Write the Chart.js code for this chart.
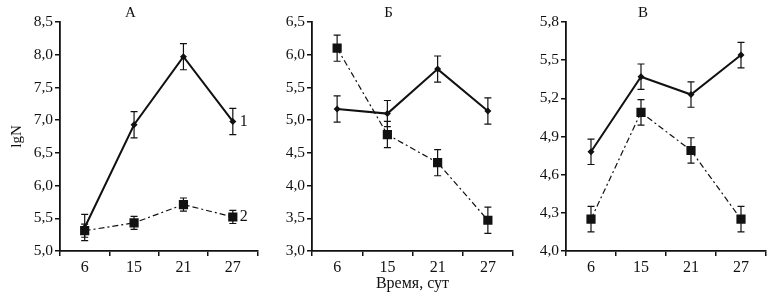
<!DOCTYPE html>
<html>
<head>
<meta charset="utf-8">
<script src="https://cdn.jsdelivr.net/npm/chart.js@4"></script>
<style>
  body { margin: 0; background: #fff; }
  #wrap { position: relative; width: 774px; height: 296px; }
  canvas { position: absolute; top: 0; }
</style>
</head>
<body>
<div id="wrap">
  <canvas id="chartA" width="264" height="296" style="left:0px"></canvas>
  <canvas id="chartB" width="256" height="296" style="left:264px"></canvas>
  <canvas id="chartC" width="254" height="296" style="left:520px"></canvas>
</div>
<script>
// days of sampling
const days = ["6", "15", "21", "27"];

// panel А
const aLine1 = [5.36, 6.93, 7.97, 6.98];
const aErr1 = [0.2, 0.2, 0.2, 0.2];
const aLine2 = [5.31, 5.43, 5.71, 5.52];
const aErr2 = [0.1, 0.1, 0.1, 0.1];
const aTicks = { min: 5.0, max: 8.5, step: 0.5 };

// panel Б
const bLine1 = [5.17, 5.10, 5.78, 5.14];
const bErr1 = [0.2, 0.2, 0.2, 0.2];
const bLine2 = [6.10, 4.78, 4.35, 3.47];
const bErr2 = [0.2, 0.2, 0.2, 0.2];
const bTicks = { min: 3.0, max: 6.5, step: 0.5 };

// panel В
const cLine1 = [4.78, 5.37, 5.23, 5.54];
const cErr1 = [0.1, 0.1, 0.1, 0.1];
const cLine2 = [4.25, 5.09, 4.79, 4.25];
const cErr2 = [0.1, 0.1, 0.1, 0.1];
const cTicks = { min: 4.0, max: 5.8, step: 0.3 };

const FONT = "'Liberation Serif', 'Times New Roman', serif";
const INK = "#111";

//error bars drawn from the y scale
const errorBars = {
  id: "errorBars",
  beforeDatasetsDraw(chart) {
    const ctx = chart.ctx;
    const y = chart.scales.y;
    chart.data.datasets.forEach((ds, di) => {
      const meta = chart.getDatasetMeta(di);
      ctx.save();
      ctx.strokeStyle = INK;
      ctx.lineWidth = 1.2;
      meta.data.forEach((pt, i) => {
        const top = y.getPixelForValue(ds.data[i] + ds.errors[i]);
        const bot = y.getPixelForValue(ds.data[i] - ds.errors[i]);
        ctx.beginPath();
        ctx.moveTo(pt.x, top);
        ctx.lineTo(pt.x, bot);
        ctx.moveTo(pt.x - 3.5, top);
        ctx.lineTo(pt.x + 3.5, top);
        ctx.moveTo(pt.x - 3.5, bot);
        ctx.lineTo(pt.x + 3.5, bot);
        ctx.stroke();
      });
      ctx.restore();
    });
  },
};

//series numbers next to last point (panel А only)
const endLabels = {
  id: "endLabels",
  afterDatasetsDraw(chart, args, opts) {
    if (!opts.show) return;
    const ctx = chart.ctx;
    ctx.save();
    ctx.fillStyle = INK;
    ctx.font = "16px " + FONT;
    ctx.textAlign = "left";
    ctx.textBaseline = "middle";
    chart.data.datasets.forEach((ds, di) => {
      const meta = chart.getDatasetMeta(di);
      const last = meta.data[meta.data.length - 1];
      ctx.fillText(ds.label, last.x + 7, last.y);
    });
    ctx.restore();
  },
};

function makeChart(id, title, line1, err1, line2, err2, t, opt) {
  const ctx = document.getElementById(id);
  return new Chart(ctx, {
    type: "line",
    data: {
      labels: days,
      datasets: [
        {
          label: "1",
          data: line1,
          errors: err1,
          borderColor: INK,
          borderWidth: 2,
          pointStyle: "rectRot",
          pointRadius: 3.5,
          pointBackgroundColor: INK,
          pointBorderColor: INK,
          pointBorderWidth: 0,
          tension: 0,
        },
        {
          label: "2",
          data: line2,
          errors: err2,
          borderColor: INK,
          borderWidth: 1.2,
          borderDash: [6, 3, 2, 3],
          pointStyle: "rect",
          pointRadius: 6.5,
          pointBackgroundColor: INK,
          pointBorderColor: INK,
          pointBorderWidth: 0,
          tension: 0,
        },
      ],
    },
    options: {
      responsive: false,
      animation: false,
      devicePixelRatio: 1,
      layout: { padding: { top: 0, bottom: 0, left: 0, right: opt.padRight } },
      plugins: {
        legend: { display: false },
        tooltip: { enabled: false },
        title: {
          display: true,
          text: title,
          color: INK,
          font: { family: FONT, size: 15, weight: "normal" },
          padding: { top: 4, bottom: 0 },
        },
        endLabels: { show: !!opt.endLabels },
      },
      scales: {
        x: {
          type: "category",
          offset: true,
          afterFit(scale) {
            scale.height = 45;
          },
          grid: {
            offset: true,
            drawOnChartArea: false,
            drawTicks: true,
            tickLength: 5,
            color: INK,
            lineWidth: 1.5,
          },
          border: { color: INK, width: 1.8 },
          ticks: {
            color: INK,
            padding: 2,
            maxRotation: 0,
            font: { family: FONT, size: 16 },
          },
          title: {
            display: !!opt.xTitle,
            text: opt.xTitle || "",
            color: INK,
            font: { family: FONT, size: 16 },
            padding: { top: 0, bottom: 3 },
          },
        },
        y: {
          min: t.min,
          max: t.max,
          afterFit(scale) {
            scale.width = opt.yWidth;
          },
          grid: {
            drawOnChartArea: false,
            drawTicks: true,
            tickLength: 5,
            color: INK,
            lineWidth: 1.5,
          },
          border: { color: INK, width: 1.8 },
          ticks: {
            stepSize: t.step,
            color: INK,
            padding: 2,
            font: { family: FONT, size: 15.5 },
            callback: (v) => v.toFixed(1).replace(".", ","),
          },
          title: {
            display: !!opt.yTitle,
            text: opt.yTitle || "",
            color: INK,
            font: { family: FONT, size: 15 },
            padding: { top: 8, bottom: 0 },
          },
        },
      },
    },
    plugins: [errorBars, endLabels],
  });
}

makeChart("chartA", "А", aLine1, aErr1, aLine2, aErr2, aTicks, {
  yWidth: 60,
  padRight: 3,
  yTitle: "lgN",
  endLabels: true,
});
makeChart("chartB", "Б", bLine1, bErr1, bLine2, bErr2, bTicks, {
  yWidth: 48,
  padRight: 7,
  xTitle: "Время, сут",
});
makeChart("chartC", "В", cLine1, cErr1, cLine2, cErr2, cTicks, {
  yWidth: 46,
  padRight: 8,
});
</script>
</body>
</html>
